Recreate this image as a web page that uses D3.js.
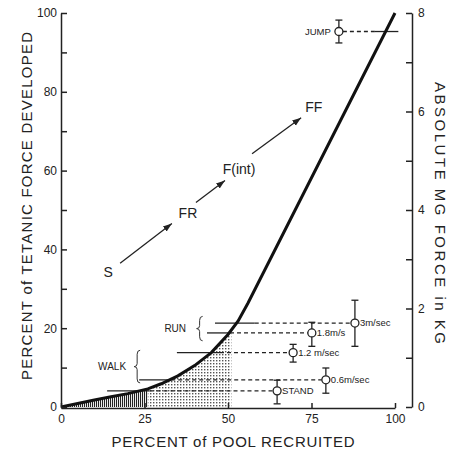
<!DOCTYPE html>
<html>
<head>
<meta charset="utf-8">
<script src="https://cdn.jsdelivr.net/npm/d3@7"></script>
<style>
  body { margin: 0; background: #fff; }
  text { font-family: "Liberation Sans", Arial, sans-serif; fill: #222; }
</style>
</head>
<body>
<div id="chart"></div>
<script>
// recruitment curve: percent of pool recruited vs percent of tetanic force
const curveX = [0, 5, 10, 15, 20, 26, 30, 35, 40, 45, 50, 53, 56, 100];
const curveY = [0, 0.9, 1.8, 2.6, 3.4, 4.6, 5.9, 7.9, 10.5, 13.8, 18.4, 21.8, 26.4, 100];

// activity levels
const actLabels = ['STAND', '0.6m/sec', '1.2 m/sec', '1.8m/s', '3m/sec', 'JUMP'];
const actForce = [4.1, 6.9, 13.8, 18.8, 21.3, 95.3];
const actX = [64.7, 79.3, 69.5, 75.1, 88, 83.2];
const actLo = [0.8, 3.5, 11.4, 15.4, 15.4, 92.4];
const actHi = [6.8, 9.9, 15.9, 21.5, 27.1, 98.2];
const solidFrom = [13.8, 23.4, 34.7, 43.7, 46.1, 94];
const solidTo = [26.5, 33, 47.6, 50.6, 58, 101];

// fibre type labels and arrows
const typeLabels = ['S', 'FR', 'F(int)', 'FF'];
const typeX = [14.1, 38, 53.3, 75.7];
const typeY = [34.2, 49.1, 60.5, 76];
const arrowFrom = [[17.7, 36.5], [40.4, 51.9], [57.2, 64.3]];
const arrowTo = [[33.2, 46.6], [49.1, 57.5], [71.9, 73.4]];

// braces
const braceLabels = ['RUN', 'WALK'];
const braceX = [41.5, 22.8];
const braceLo = [16.8, 6.1];
const braceHi = [23, 14.4];
const braceTextX = [34.2, 15.3];

const leftTicks = d3.range(0, 101, 10);
const rightTicks = d3.range(0, 9, 1);
const bottomTicks = [0, 25, 50, 75, 100];

const W = 457, H = 455;
const svg = d3.select('#chart').append('svg')
    .attr('width', W).attr('height', H);

const x = d3.scaleLinear().domain([0, 100]).range([61, 395]);
const y = d3.scaleLinear().domain([0, 100]).range([407, 13]);
const yKg = d3.scaleLinear().domain([0, 8]).range([407, 13]);

const defs = svg.append('defs');
const hatch = defs.append('pattern').attr('id', 'vhatch')
    .attr('patternUnits', 'userSpaceOnUse').attr('width', 2).attr('height', 4);
hatch.append('rect').attr('x', 0).attr('y', 0).attr('width', 1.1).attr('height', 4).attr('fill', '#222');

const dots = defs.append('pattern').attr('id', 'dots')
    .attr('patternUnits', 'userSpaceOnUse').attr('width', 3).attr('height', 3);
dots.append('rect').attr('x', 0).attr('y', 0).attr('width', 1.4).attr('height', 1.4).attr('fill', '#555');

defs.append('clipPath').attr('id', 'clipHatch').append('rect')
    .attr('x', x(0)).attr('y', y(100)).attr('width', x(26) - x(0)).attr('height', y(0) - y(100));
defs.append('clipPath').attr('id', 'clipDots').append('rect')
    .attr('x', x(26)).attr('y', y(100)).attr('width', x(51) - x(26)).attr('height', y(0) - y(100));

defs.append('marker').attr('id', 'head')
    .attr('viewBox', '0 0 10 10').attr('refX', 10).attr('refY', 5)
    .attr('markerWidth', 9).attr('markerHeight', 9).attr('markerUnits', 'userSpaceOnUse')
    .attr('orient', 'auto')
    .append('path').attr('d', 'M0,1.5 L10,5 L0,8.5 Z').attr('fill', '#222');

const pts = curveX.map((v, i) => [v, curveY[i]]);

const area = d3.area().x(d => x(d[0])).y0(y(0)).y1(d => y(d[1]));
svg.append('path').datum(pts).attr('d', area)
    .attr('fill', 'url(#vhatch)').attr('clip-path', 'url(#clipHatch)');
svg.append('path').datum(pts).attr('d', area)
    .attr('fill', 'url(#dots)').attr('clip-path', 'url(#clipDots)');

// activity lines
actLabels.forEach((lab, i) => {
    const fy = y(actForce[i]);
    svg.append('line')
        .attr('x1', x(solidFrom[i])).attr('x2', x(solidTo[i]))
        .attr('y1', fy).attr('y2', fy)
        .attr('stroke', '#222').attr('stroke-width', 1.3);
    let d1, d2;
    if (actX[i] > solidTo[i]) { d1 = x(solidTo[i]); d2 = x(actX[i]) - 4; }
    else { d1 = x(actX[i]) + 4; d2 = x(solidFrom[i]); }
    svg.append('line')
        .attr('x1', d1).attr('x2', d2).attr('y1', fy).attr('y2', fy)
        .attr('stroke', '#222').attr('stroke-width', 1.3)
        .attr('stroke-dasharray', '4,3');

    const cx = x(actX[i]);
    svg.append('line').attr('x1', cx).attr('x2', cx)
        .attr('y1', y(actLo[i])).attr('y2', y(actHi[i]))
        .attr('stroke', '#222').attr('stroke-width', 1.3);
    [actLo[i], actHi[i]].forEach(v => {
        svg.append('line').attr('x1', cx - 3.5).attr('x2', cx + 3.5)
            .attr('y1', y(v)).attr('y2', y(v))
            .attr('stroke', '#222').attr('stroke-width', 1.3);
    });
    svg.append('circle').attr('cx', cx).attr('cy', fy).attr('r', 4)
        .attr('fill', '#fff').attr('stroke', '#222').attr('stroke-width', 1.3);

    const right = lab !== 'JUMP';
    svg.append('text')
        .attr('x', right ? cx + 5 : cx - 8)
        .attr('y', fy).attr('dy', '0.35em')
        .attr('text-anchor', right ? 'start' : 'end')
        .attr('font-size', '9.5px')
        .text(lab);
});

// recruitment curve
svg.append('path').datum(pts)
    .attr('d', d3.line().x(d => x(d[0])).y(d => y(d[1])))
    .attr('fill', 'none').attr('stroke', '#111').attr('stroke-width', 3);

// fibre type labels and arrows
typeLabels.forEach((lab, i) => {
    svg.append('text').attr('x', x(typeX[i])).attr('y', y(typeY[i]))
        .attr('dy', '0.35em').attr('text-anchor', 'middle')
        .attr('font-size', '14px').text(lab);
});
arrowFrom.forEach((a, i) => {
    svg.append('line')
        .attr('x1', x(a[0])).attr('y1', y(a[1]))
        .attr('x2', x(arrowTo[i][0])).attr('y2', y(arrowTo[i][1]))
        .attr('stroke', '#222').attr('stroke-width', 1.3)
        .attr('marker-end', 'url(#head)');
});

// braces
braceLabels.forEach((lab, i) => {
    const bx = x(braceX[i]), t = y(braceHi[i]), b = y(braceLo[i]), m = (t + b) / 2;
    const p = d3.path();
    p.moveTo(bx + 3, t);
    p.quadraticCurveTo(bx, t, bx, t + 4);
    p.lineTo(bx, m - 3);
    p.quadraticCurveTo(bx, m, bx - 3, m);
    p.quadraticCurveTo(bx, m, bx, m + 3);
    p.lineTo(bx, b - 4);
    p.quadraticCurveTo(bx, b, bx + 3, b);
    svg.append('path').attr('d', p.toString())
        .attr('fill', 'none').attr('stroke', '#333').attr('stroke-width', 1);
    svg.append('text').attr('x', x(braceTextX[i])).attr('y', m)
        .attr('dy', '0.35em').attr('text-anchor', 'middle')
        .attr('font-size', '10px').text(lab);
});

// axes
const leftAxis = d3.axisLeft(y).tickValues(leftTicks)
    .tickSizeInner(-6).tickSizeOuter(0).tickPadding(4)
    .tickFormat(d => d % 20 === 0 ? d : '');
const rightAxis = d3.axisRight(yKg).tickValues(rightTicks)
    .tickSizeInner(-6).tickSizeOuter(0).tickPadding(6)
    .tickFormat(d => d % 2 === 0 ? d : '');
const bottomAxis = d3.axisBottom(x).tickValues(bottomTicks)
    .tickSizeInner(-5).tickSizeOuter(0).tickPadding(6);

[
    svg.append('g').attr('transform', 'translate(' + x(0) + ',0)').call(leftAxis),
    svg.append('g').attr('transform', 'translate(412,0)').call(rightAxis),
    svg.append('g').attr('transform', 'translate(0,' + (y(0) + 1) + ')').call(bottomAxis)
].forEach(g => {
    g.selectAll('path, line').attr('stroke', '#222').attr('stroke-width', 1.5);
    g.selectAll('text').attr('font-size', '12px')
        .style('font-family', '"Liberation Sans", Arial, sans-serif').attr('fill', '#222');
});

// axis titles
svg.append('text')
    .attr('transform', 'translate(32,' + 206 + ') rotate(-90)')
    .attr('text-anchor', 'middle').attr('font-size', '15px')
    .attr('textLength', 348).attr('lengthAdjust', 'spacing')
    .text('PERCENT of TETANIC FORCE DEVELOPED');
svg.append('text')
    .attr('transform', 'translate(435,' + 213 + ') rotate(90)')
    .attr('text-anchor', 'middle').attr('font-size', '15px')
    .attr('textLength', 262).attr('lengthAdjust', 'spacing')
    .text('ABSOLUTE MG FORCE in KG');
svg.append('text')
    .attr('x', 233).attr('y', 447)
    .attr('text-anchor', 'middle').attr('font-size', '15px')
    .attr('textLength', 243).attr('lengthAdjust', 'spacing')
    .text('PERCENT of POOL RECRUITED');
</script>
</body>
</html>
